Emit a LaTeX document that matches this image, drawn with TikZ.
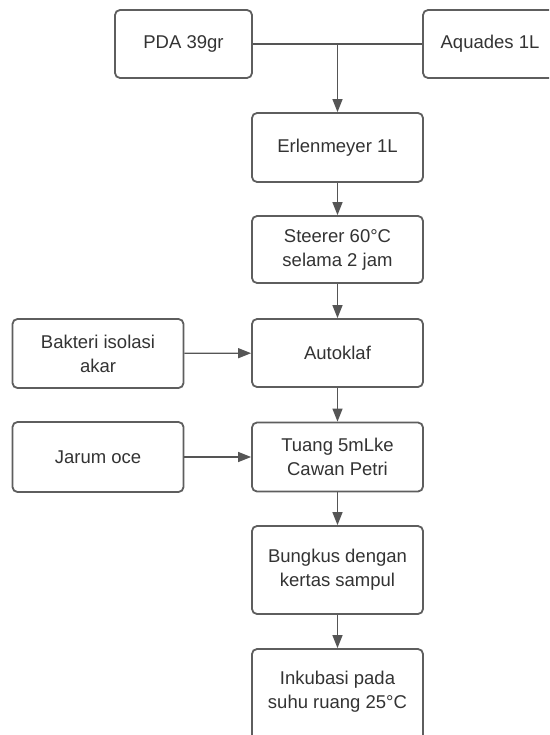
\documentclass[tikz,border=0pt]{standalone}
\usepackage{fontspec}
\setmainfont{Liberation Sans}
\usetikzlibrary{arrows.meta}
\definecolor{boxline}{HTML}{5E5E5E}
\definecolor{conn}{HTML}{555555}
\definecolor{txt}{HTML}{333333}
\begin{document}
\begin{tikzpicture}[x=1pt,y=-1pt,
  box/.style={draw=boxline, line width=1.8pt, rounded corners=5pt, fill=white,
    text=txt, align=center, minimum width=171pt, inner sep=0pt,
    font=\fontsize{18.5}{24}\selectfont},
  conn/.style={draw=conn, line width=1.3pt},
  arr/.style={conn, -{Triangle[length=13pt,width=10pt]}}]
\useasboundingbox (0,0) rectangle (549,735);
\clip (0,0) rectangle (549,735);
\node[box, minimum height=68pt, minimum width=137pt] (pda) at (183.5,44) {PDA 39gr};
\node[box, minimum height=68pt, minimum width=134pt] (aq) at (490,44) {Aquades 1L};
\node[box, minimum height=69pt] (erl) at (337.5,147.5) {Erlenmeyer 1L};
\node[box, minimum height=67pt] (st) at (337.5,249.5) {Steerer 60\textdegree C\\selama 2 jam};
\node[box, minimum height=68pt] (auto) at (337.5,353) {Autoklaf};
\node[box, minimum height=69pt] (bak) at (98,353.5) {Bakteri isolasi\\akar};
\node[box, minimum height=69pt] (tu) at (337.5,457) {Tuang 5mLke\\Cawan Petri};
\node[box, minimum height=70pt] (jar) at (98,457) {Jarum oce};
\node[box, minimum height=88pt] (bu) at (337.5,570) {Bungkus dengan\\kertas sampul};
\node[box, minimum height=100pt, text depth=18pt] (ink) at (337.5,699) {Inkubasi pada\\suhu ruang 25\textdegree C};
\coordinate (j) at (337.5,44);
\draw[conn] (pda.east) -- (aq.west);
\draw[arr] (j) -- (erl.north);
\draw[arr] (erl) -- (st);
\draw[arr] (st) -- (auto);
\draw[arr] (auto) -- (tu);
\draw[arr] (tu) -- (bu);
\draw[arr] (bu) -- (ink);
\draw[arr] (bak) -- (auto);
\draw[arr] (jar.east) -- (tu.west |- jar.east);
\end{tikzpicture}
\end{document}
